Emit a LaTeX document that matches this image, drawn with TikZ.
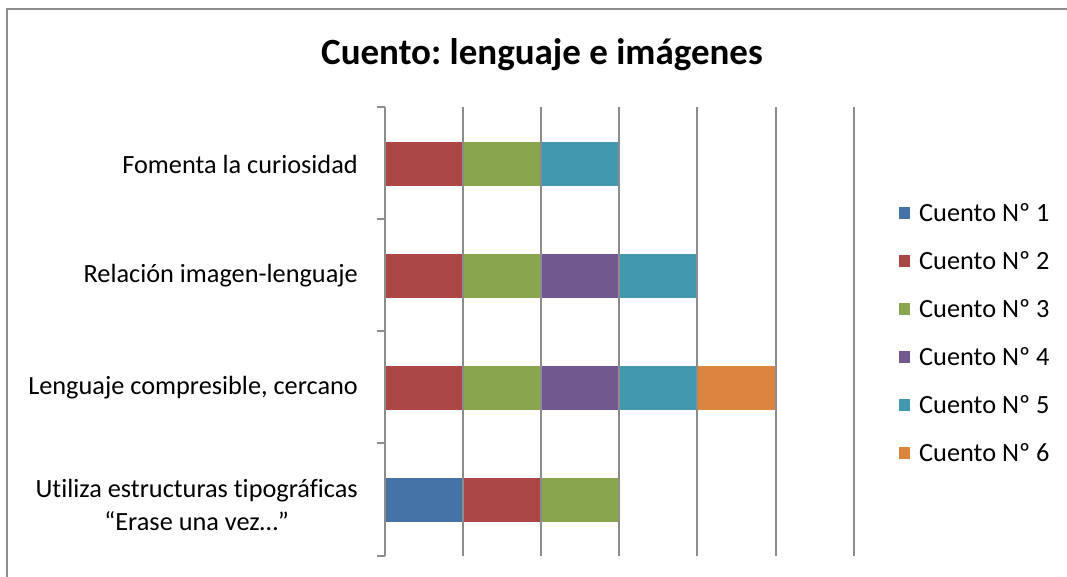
\documentclass[tikz,border=0pt]{standalone}
\usepackage{fontspec}
\setmainfont[Ligatures=NoCommon]{Carlito}
\frenchspacing
\definecolor{cblue}{HTML}{4572A7}
\definecolor{cred}{HTML}{AA4643}
\definecolor{cgreen}{HTML}{89A54E}
\definecolor{cpurple}{HTML}{71588F}
\definecolor{cteal}{HTML}{4198AF}
\definecolor{corange}{HTML}{DB843D}
\definecolor{gridgray}{HTML}{8C8C8C}
\begin{document}
\begin{tikzpicture}[x=1pt,y=-1pt,
  gridline/.style={draw=gridgray,line width=1.6pt},
  catlabel/.style={anchor=east,inner sep=0pt,font=\fontsize{26.3}{33}\selectfont,align=center},
  legtext/.style={anchor=west,inner sep=0pt,font=\fontsize{26.3}{30}\selectfont},
  legbox/.style={minimum size=11.5pt,inner sep=0pt,fill=#1}]
\useasboundingbox (0,0) rectangle (1067,577);
\fill[white] (0,0) rectangle (1067,577);
% frame
\draw[gridgray,line width=2pt] (7,577) -- (7,9.5) -- (1067,9.5);
% title
\node[font=\fontsize{37}{44}\selectfont\bfseries] (title) at (542,55) {Cuento: lenguaje e imágenes};
% bars
\def\bw{78}
\foreach \y/\cols in {164/{cred,cgreen,cteal},276/{cred,cgreen,cpurple,cteal},388/{cred,cgreen,cpurple,cteal,corange},500/{cblue,cred,cgreen}}{
  \foreach \c [count=\i from 0] in \cols {
    \fill[\c] ({385+\i*\bw},\y-22) rectangle ({385+(\i+1)*\bw},\y+22);
  }
}
% gridlines
\foreach \x in {463,541,619,697,776,854} \draw[gridline] (\x,107) -- (\x,556);
% axis
\draw[gridline] (385,107) -- (385,556);
\foreach \y in {107,219,331,443,556} \draw[gridline] (377,\y) -- (385,\y);
% category labels
\node[catlabel] (l1) at (358,164) {Fomenta la curiosidad};
\node[catlabel] (l2) at (358,276) {Relación imagen-lenguaje};
\node[catlabel] (l3) at (358,388) {Lenguaje compresible, cercano};
\node[catlabel] (l4) at (358,505) {Utiliza estructuras tipográficas\\“Erase una vez…”};
% legend
\foreach \c/\t [count=\i from 0] in {cblue/1,cred/2,cgreen/3,cpurple/4,cteal/5,corange/6}{
  \node[legbox=\c] (lb\i) at (904.5,{213+\i*48}) {};
  \node[legtext] (lt\i) at (919,{213+\i*48}) {Cuento Nº \t};
}
\end{tikzpicture}
\end{document}
